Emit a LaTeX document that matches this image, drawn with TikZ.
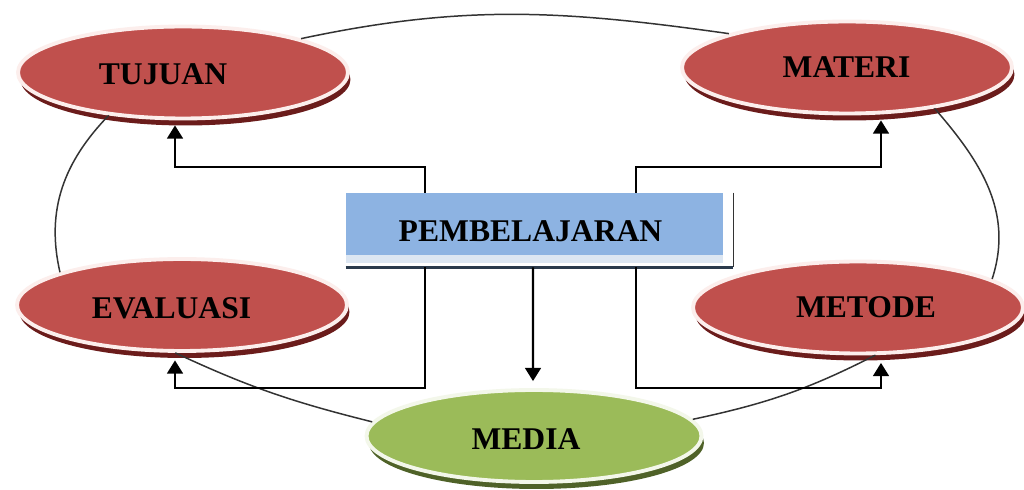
\documentclass[tikz,border=0pt]{standalone}
\usepackage{fontspec}
\setmainfont{Liberation Serif}
\usetikzlibrary{shapes.geometric,shadows,arrows.meta,calc}
\definecolor{ovred}{HTML}{C0504D}
\definecolor{rimred}{HTML}{FCEEEC}
\definecolor{shred}{HTML}{6B1C1B}
\definecolor{ovgreen}{HTML}{9BBB59}
\definecolor{rimgreen}{HTML}{F3F7EA}
\definecolor{shgreen}{HTML}{4F6228}
\definecolor{boxblue}{HTML}{8DB3E2}
\definecolor{stripblue}{HTML}{DCE6F2}
\definecolor{edgenavy}{HTML}{2A3A4C}
\definecolor{cycgray}{HTML}{333333}
\begin{document}
\begin{tikzpicture}[x=0.02cm,y=0.02cm,
  oval/.style={ellipse, minimum width=6.6cm, minimum height=1.84cm, line width=2.2pt, inner sep=0pt},
  redov/.style={oval, fill=ovred, draw=rimred,
    drop shadow={shadow xshift=0.05cm, shadow yshift=-0.14cm, fill=shred, opacity=1}},
  greenov/.style={oval, minimum width=6.7cm, fill=ovgreen, draw=rimgreen,
    drop shadow={shadow xshift=0.05cm, shadow yshift=-0.14cm, fill=shgreen, opacity=1}},
  pbox/.style={rectangle, fill=boxblue, draw=none, minimum width=7.54cm, minimum height=1.24cm, inner sep=0pt},
  lbl/.style={font=\fontsize{18}{20}\selectfont\bfseries, text=black, inner sep=0pt, anchor=base},
  cyc/.style={draw=cycgray, line width=0.85pt},
  arr/.style={draw=black, line width=1.2pt, -{Triangle[width=9pt,length=7.5pt]}}
]
\useasboundingbox (0,0) rectangle (1024,490);
\fill[white] (0,0) rectangle (1024,490);

% ellipse nodes
\node[redov] (tuj) at (183,417.5) {};
\node[redov] (mat) at (847,422.5) {};
\node[redov] (eva) at (182,185) {};
\node[redov] (met) at (858,182.5) {};
\node[greenov] (med) at (534,54) {};

% cycle lines
\draw[cyc] (tuj.16) to[out=12,in=172] (mat.164);
\draw[cyc] (mat.-25) to[out=-49,in=72] (met.12);
\draw[cyc] (tuj.210) to[out=226,in=103] (eva.165);
\draw[cyc] (eva.262) to[out=-25,in=166] (med.175);
\draw[cyc] (med.6) to[out=12,in=207] (met.-70);

% central box
\node[pbox] (pb) at (534.5,266) {};
\fill[stripblue] (pb.south west) rectangle ($(pb.south east)+(0,-8)$);
\draw[edgenavy, line width=1.6pt] ($(pb.south west)+(0,-12)$) -- ($(pb.south east)+(10,-12)$);
\draw[cycgray, line width=0.9pt] ($(pb.north east)+(10,0)$) -- ($(pb.south east)+(10,-12)$);

% connectors
\draw[arr] ([xshift=-2.19cm]pb.north) -- ++(0,26) -| ([xshift=-0.16cm,yshift=-0.1cm]tuj.south);
\draw[arr] ([xshift=2.03cm]pb.north) -- ++(0,26) -| ([xshift=0.68cm,yshift=-0.1cm]mat.south);
\draw[arr] ([xshift=-2.19cm,yshift=-0.24cm]pb.south) -- ++(0,-121) -| ([xshift=-0.14cm,yshift=-0.15cm]eva.south);
\draw[arr] ([xshift=2.03cm,yshift=-0.24cm]pb.south) -- ++(0,-121) -| ([xshift=0.46cm,yshift=-0.15cm]met.south);
\draw[arr, shorten >=0.14cm] ([xshift=-0.03cm,yshift=-0.24cm]pb.south) -- ([xshift=-0.02cm]med.north);

% labels
\node[lbl] (tujT) at (163,405) {TUJUAN};
\node[lbl] (matT) at (846.5,412) {MATERI};
\node[lbl] (evaT) at (171.5,171) {EVALUASI};
\node[lbl] (metT) at (866,172) {METODE};
\node[lbl] (medT) at (526,40) {MEDIA};
\node[lbl] (pbT) at (530.5,248) {PEMBELAJARAN};
\end{tikzpicture}
\end{document}
